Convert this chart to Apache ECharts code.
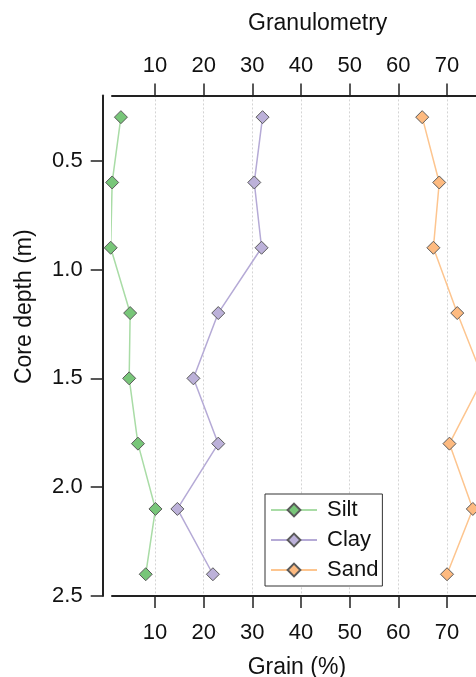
<!DOCTYPE html>
<html>
<head>
<meta charset="utf-8">
<title>Granulometry</title>
<script src="https://cdn.jsdelivr.net/npm/echarts@6/dist/echarts.min.js"></script>
<style>
  html, body { margin: 0; padding: 0; background: #ffffff; }
  #chart { width: 476px; height: 677px; }
</style>
</head>
<body>
<div id="chart"></div>
<script>
// Core sample depths (m) and grain-size fractions (%)
const depths = [0.3, 0.6, 0.9, 1.2, 1.5, 1.8, 2.1, 2.4];
const silt = [3.0, 1.2, 0.9, 4.9, 4.7, 6.5, 10.1, 8.1];
const clay = [32.1, 30.4, 31.9, 23.0, 17.9, 23.0, 14.6, 21.9];
const sand = [64.9, 68.4, 67.2, 72.1, 77.4, 70.5, 75.3, 70.0];

// Tick labels
const grainTicks = [10, 20, 30, 40, 50, 60, 70];
const depthTicks = [0.5, 1.0, 1.5, 2.0, 2.5];

const FONT = 'Liberation Sans, Arial, Helvetica, sans-serif';

const pairs = vals => vals.map((v, i) => [v, depths[i]]);

function grainAxis(position, withGrid, labelMargin) {
  return {
    type: 'value',
    position: position,
    min: 1.17,
    max: 80,
    axisLine: { show: true, lineStyle: { color: '#222', width: 2 } },
    axisTick: {
      show: true, length: 12, customValues: grainTicks,
      lineStyle: { color: '#222', width: 1.5 }
    },
    axisLabel: {
      customValues: grainTicks, margin: labelMargin,
      color: '#111', fontSize: 22, fontFamily: FONT
    },
    splitLine: {
      show: withGrid,
      lineStyle: { color: '#d4d4d4', type: [2, 2], width: 1 }
    }
  };
}

const bottomAxis = grainAxis('bottom', true, 26);
bottomAxis.name = 'Grain (%)';
bottomAxis.nameLocation = 'middle';
bottomAxis.nameGap = 60;
bottomAxis.nameTextStyle = { color: '#111', fontSize: 23, fontFamily: FONT, padding: [0, 14, 0, 0] };

const topAxis = grainAxis('top', false, 18);

function makeSeries(name, vals, fill, line) {
  return {
    name: name,
    type: 'line',
    data: pairs(vals),
    clip: false,
    symbol: 'diamond',
    symbolSize: 13,
    itemStyle: { color: fill, borderColor: '#5a5a5a', borderWidth: 1 },
    lineStyle: { color: line, width: 1.5 },
    emphasis: { disabled: true }
  };
}

const chart = echarts.init(document.getElementById('chart'), null, { renderer: 'canvas' });
chart.setOption({
  animation: false,
  backgroundColor: '#ffffff',
  title: {
    text: 'Granulometry',
    left: 248,
    top: 12,
    padding: 0,
    textStyle: { color: '#111', fontSize: 23, fontWeight: 'normal', fontFamily: FONT }
  },
  grid: {
    left: 112, top: 95.4, width: 383.7, height: 500.6,
    containLabel: false, outerBoundsMode: 'none'
  },
  xAxis: [bottomAxis, topAxis],
  yAxis: {
    type: 'value',
    inverse: true,
    min: 0.2,
    max: 2.5,
    offset: 9.3,
    name: 'Core depth (m)',
    nameLocation: 'middle',
    nameGap: 67,
    nameTextStyle: { color: '#111', fontSize: 23, fontFamily: FONT, padding: [0, 0, 0, 78] },
    axisLine: { show: true, lineStyle: { color: '#222', width: 2 } },
    axisTick: {
      show: true, length: 12, customValues: depthTicks,
      lineStyle: { color: '#222', width: 1.5 }
    },
    axisLabel: {
      customValues: depthTicks, margin: 20,
      color: '#111', fontSize: 22, fontFamily: FONT,
      formatter: v => Number(v).toFixed(1)
    },
    splitLine: { show: false }
  },
  legend: {
    orient: 'vertical',
    left: 265,
    top: 494,
    padding: [5, 4, 5, 5],
    itemWidth: 46,
    itemHeight: 16,
    itemGap: 8,
    backgroundColor: '#ffffff',
    borderColor: '#333',
    borderWidth: 1,
    borderRadius: 0,
    textStyle: { color: '#111', fontSize: 22, fontFamily: FONT, lineHeight: 20, padding: [0, 0, 0, 5] },
    data: ['Silt', 'Clay', 'Sand']
  },
  series: [
    makeSeries('Silt', silt, '#78c679', '#a9dca6'),
    makeSeries('Clay', clay, '#bcb1d9', '#b5aad6'),
    makeSeries('Sand', sand, '#fdba80', '#fdc58f')
  ]
});
</script>
</body>
</html>
